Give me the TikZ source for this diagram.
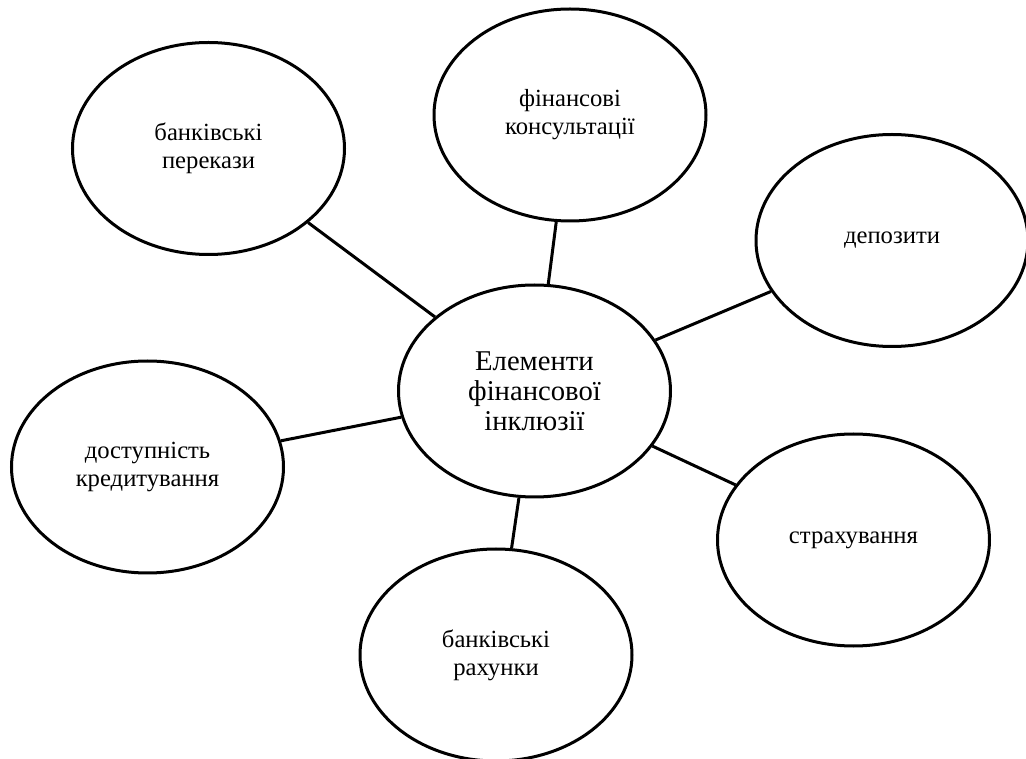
\documentclass[tikz,border=0pt]{standalone}
\usepackage{fontspec}
\setmainfont{Liberation Serif}
\usetikzlibrary{shapes.geometric}
\begin{document}
\begin{tikzpicture}[x=0.75pt,y=-0.75pt,
  bubble/.style={ellipse, draw=black, line width=2.25pt, fill=white, inner sep=0pt,
    minimum width=204pt, minimum height=159pt, align=center,
    font=\fontsize{18.5pt}{21pt}\selectfont},
  hub/.style={bubble, font=\fontsize{21.5pt}{22.5pt}\selectfont},
  link/.style={draw=black, line width=2.25pt}]
\useasboundingbox (0,0) rectangle (1026,759);
\node[hub] (c) at (534.5,391) {Елементи\\фінансової\\інклюзії};
\node[bubble] (tl) at (208.5,148.5) {банківські\\перекази};
\node[bubble] (tm) at (570,115) {фінансові\\консультації};
\node[bubble] (r) at (892,240.5) {депозити};
\node[bubble] (l) at (147.5,467) {доступність\\кредитування};
\node[bubble] (br) at (853.5,540) {страхування};
\node[bubble] (b) at (496,655) {банківські\\рахунки};
\foreach \n in {tl,tm,r,l,br,b} \draw[link] (c) -- (\n);
\end{tikzpicture}
\end{document}
